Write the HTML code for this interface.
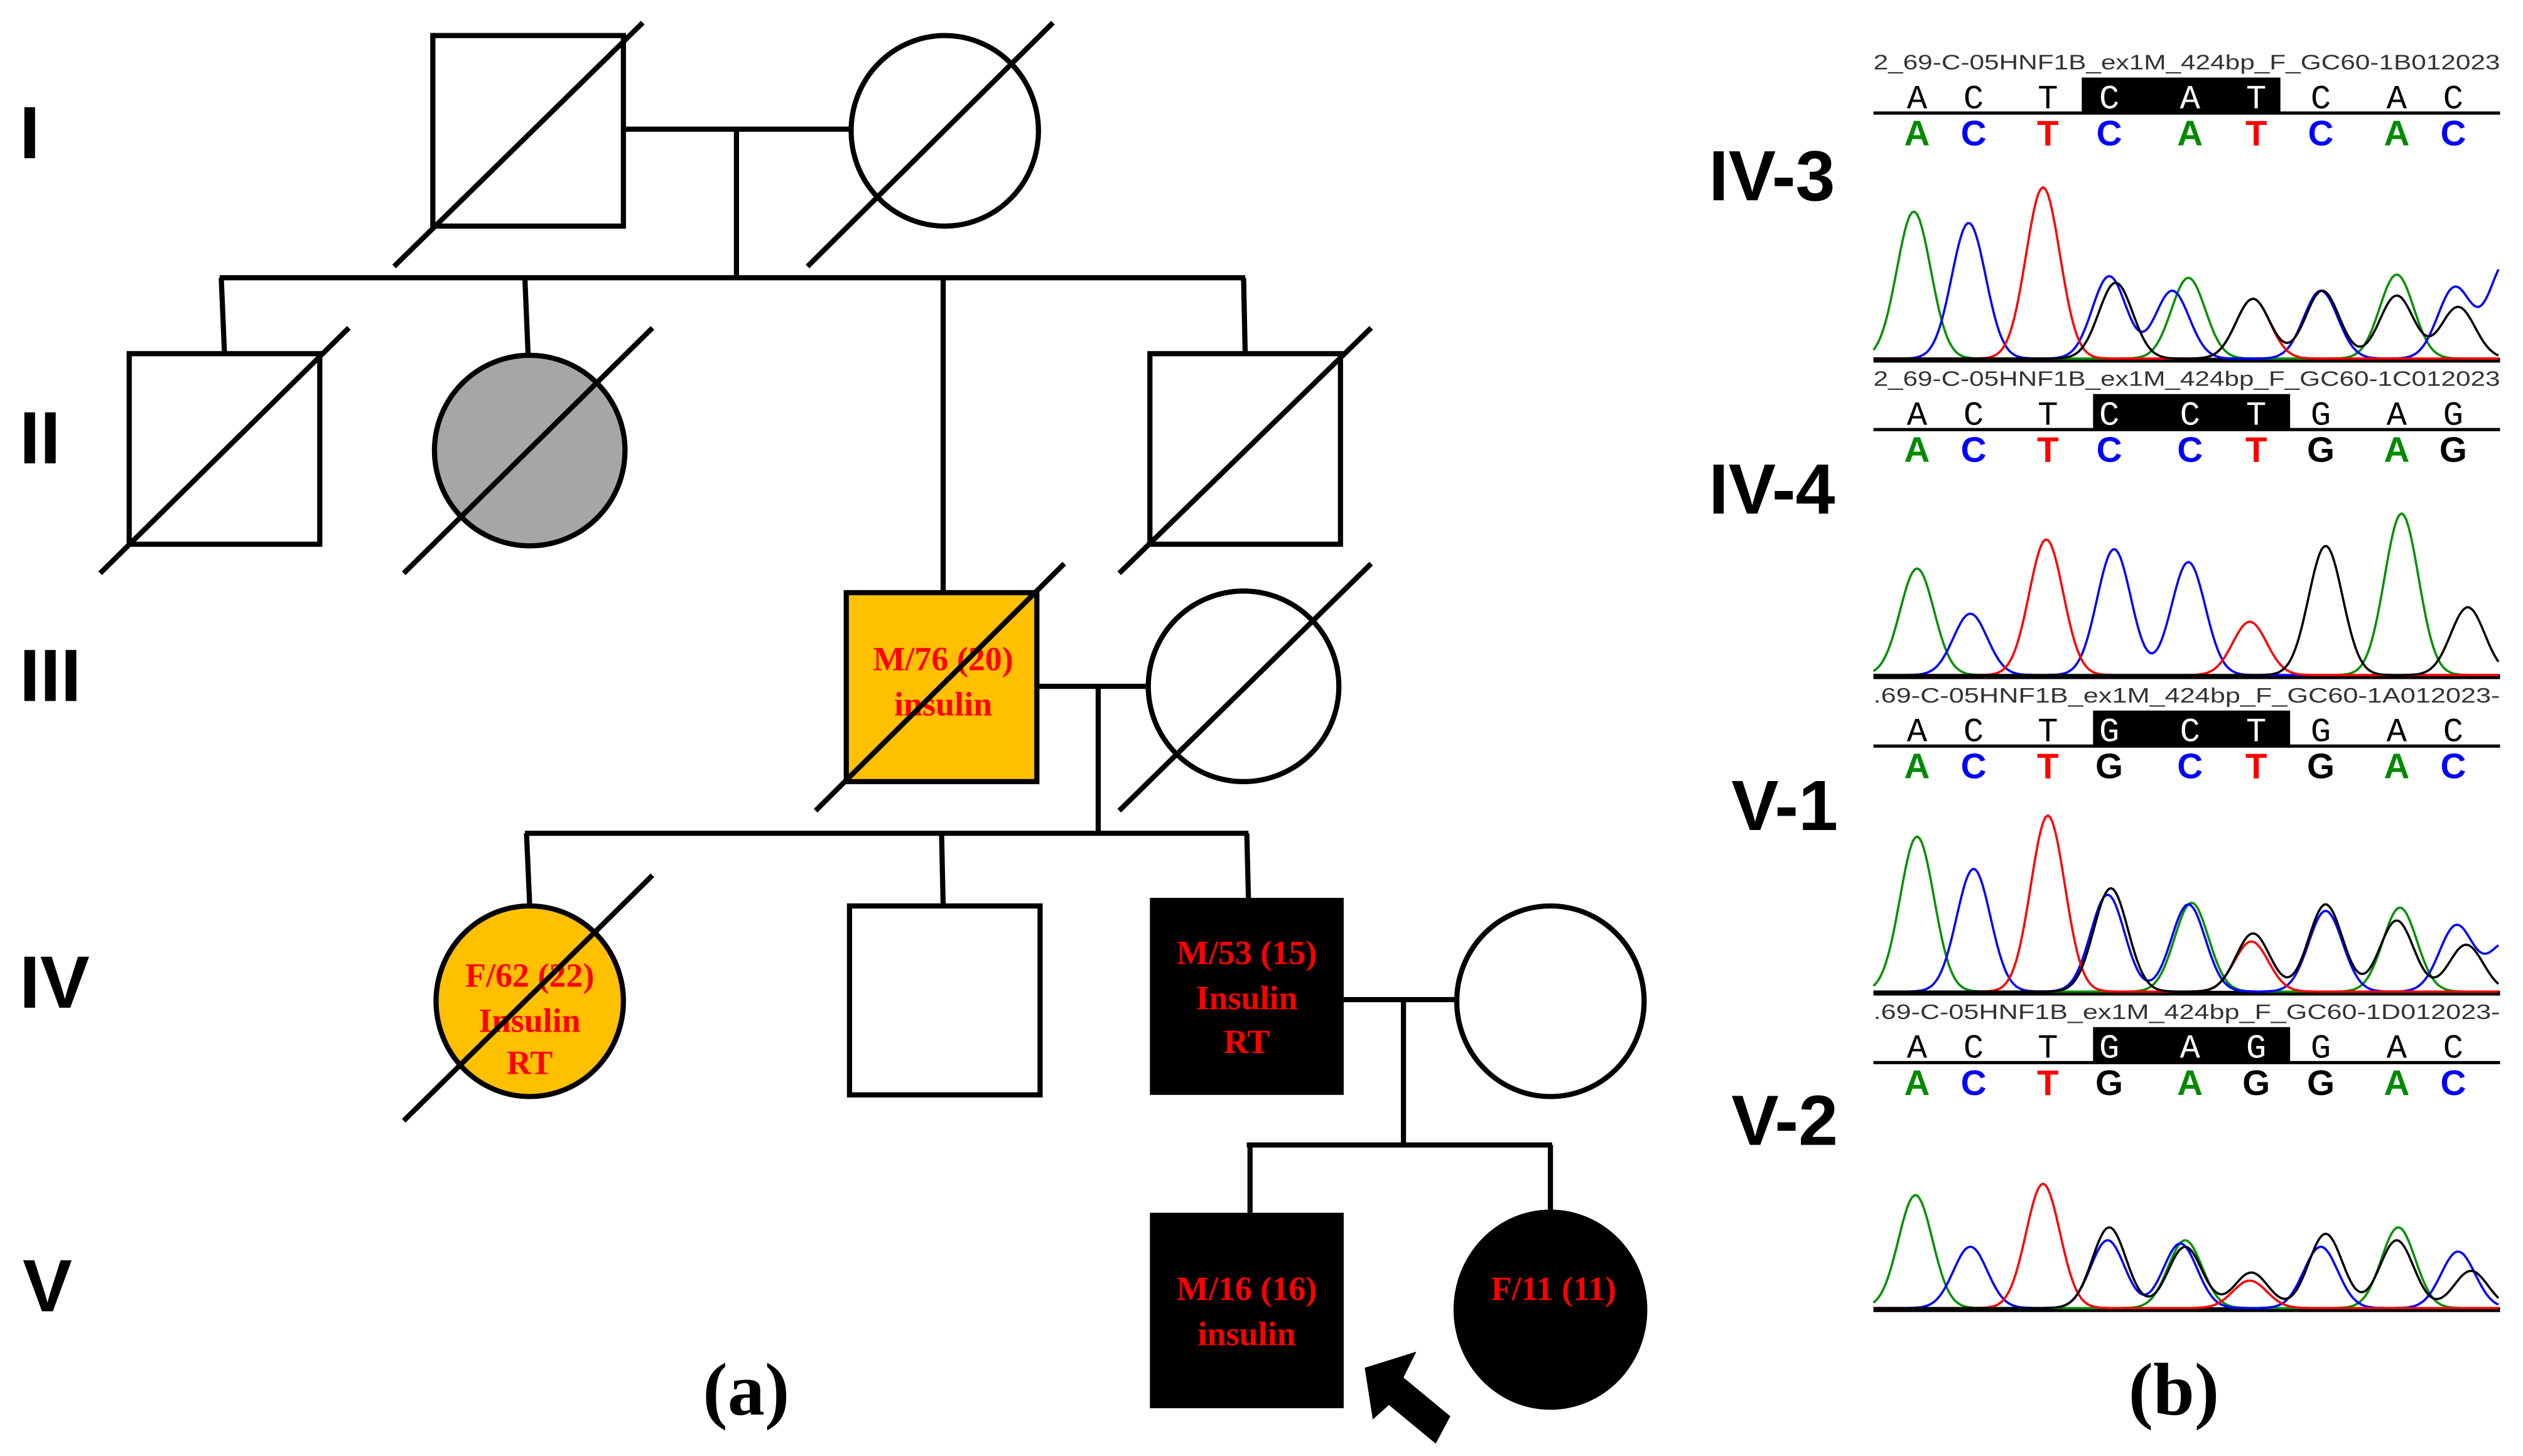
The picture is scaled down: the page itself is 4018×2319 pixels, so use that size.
<!DOCTYPE html>
<html><head><meta charset="utf-8"><style>
html,body{margin:0;padding:0;background:#fff;width:4018px;height:2319px;overflow:hidden}
svg{display:block}
.ped{font-family:"Liberation Serif",serif;font-weight:bold;fill:#f00;font-size:21px;text-anchor:middle}
.gen{font-family:"Liberation Sans",sans-serif;font-weight:bold;font-size:46px;fill:#000}
.lab{font-family:"Liberation Sans",sans-serif;font-weight:bold;font-size:44px;fill:#000}
.cap{font-family:"Liberation Serif",serif;font-weight:bold;font-size:46px;fill:#000;text-anchor:middle}
.hdr{font-family:"Liberation Sans",sans-serif;font-size:13px;fill:#333}
.sb{font-family:"Liberation Mono",monospace;font-size:21px;text-anchor:middle}
.cb{font-family:"Liberation Sans",sans-serif;font-weight:bold;font-size:22px;text-anchor:middle}
</style></head><body>
<svg id="s" width="4018" height="2319" viewBox="0 0 1562.2 901.6" xmlns="http://www.w3.org/2000/svg">
<g stroke="#000" stroke-width="3.2" fill="none">
<rect x="268" y="22" width="118" height="118" fill="#fff"/>
<line x1="244" y1="165" x2="398" y2="14"/>
<ellipse cx="585" cy="81" rx="58" ry="59" fill="#fff"/>
<line x1="500" y1="165" x2="652" y2="14"/>
<line x1="386" y1="80" x2="527" y2="80"/>
<line x1="456" y1="80" x2="456" y2="172"/>
<line x1="136" y1="172" x2="771" y2="172"/>
<line x1="137" y1="172" x2="139" y2="219"/>
<rect x="80" y="219" width="118" height="118" fill="#fff"/>
<line x1="62" y1="355" x2="216" y2="203"/>
<line x1="325" y1="172" x2="327" y2="220"/>
<ellipse cx="328" cy="279" rx="59" ry="59" fill="#a6a6a6"/>
<line x1="250" y1="355" x2="404" y2="203"/>
<line x1="584" y1="172" x2="584" y2="367"/>
<line x1="770" y1="172" x2="771" y2="219"/>
<rect x="712" y="219" width="118" height="118" fill="#fff"/>
<line x1="693" y1="355" x2="849" y2="203"/>
<rect x="524" y="367" width="118" height="117" fill="#ffc000"/>
<ellipse cx="770" cy="425" rx="59" ry="59" fill="#fff"/>
<line x1="642" y1="425" x2="711" y2="425"/>
<line x1="680" y1="425" x2="680" y2="516"/>
<line x1="325" y1="516" x2="773" y2="516"/>
<line x1="326" y1="516" x2="328" y2="561"/>
<ellipse cx="328" cy="620" rx="58" ry="59" fill="#ffc000"/>
<line x1="583" y1="516" x2="584" y2="561"/>
<rect x="526" y="561" width="118" height="117" fill="#fff"/>
<line x1="772" y1="516" x2="773" y2="556"/>
<rect x="712" y="556" width="120" height="122" fill="#000" stroke="none"/>
<ellipse cx="960" cy="620" rx="58" ry="59" fill="#fff"/>
<line x1="832" y1="619" x2="902" y2="619"/>
<line x1="869" y1="619" x2="869" y2="709"/>
<line x1="772" y1="709" x2="961" y2="709"/>
<line x1="774" y1="709" x2="774" y2="751"/>
<line x1="960" y1="709" x2="960" y2="752"/>
<rect x="712" y="751" width="120" height="121" fill="#000" stroke="none"/>
<ellipse cx="960" cy="811" rx="60" ry="62" fill="#000" stroke="none"/>
</g>
<text class="ped" x="584" y="415">M/76 (20)</text>
<text class="ped" x="584" y="443">insulin</text>
<text class="ped" x="328" y="611">F/62 (22)</text>
<text class="ped" x="328" y="639">Insulin</text>
<text class="ped" x="328" y="665">RT</text>
<text class="ped" x="772" y="597">M/53 (15)</text>
<text class="ped" x="772" y="625">Insulin</text>
<text class="ped" x="772" y="652">RT</text>
<text class="ped" x="772" y="805">M/16 (16)</text>
<text class="ped" x="772" y="833">insulin</text>
<text class="ped" x="962" y="805">F/11 (11)</text>
<g stroke="#000" stroke-width="3.2">
<line x1="505" y1="502" x2="659" y2="349"/>
<line x1="693" y1="502" x2="849" y2="349"/>
<line x1="250" y1="694" x2="404" y2="542"/>
</g>
<polygon points="845,847 877,837 869,853 898,877 889,894 860,870 850,879" fill="#000"/>
<text class="gen" x="12" y="98">I</text>
<text class="gen" x="12" y="287">II</text>
<text class="gen" x="12" y="434">III</text>
<text class="gen" x="12" y="624">IV</text>
<text class="gen" x="14" y="812">V</text>
<text class="cap" x="462" y="876">(a)</text>
<text class="cap" x="1346" y="876">(b)</text>
<text class="lab" x="1058" y="124">IV-3</text>
<text class="lab" x="1058" y="318">IV-4</text>
<text class="lab" x="1072" y="514">V-1</text>
<text class="lab" x="1072" y="709">V-2</text>
<g id="chrom"></g>
</svg>
<script>
var NS="http://www.w3.org/2000/svg",g=document.getElementById("chrom");
function el(t,a,txt){var e=document.createElementNS(NS,t);for(var k in a)e.setAttribute(k,a[k]);if(txt)e.textContent=txt;g.appendChild(e);return e;}
var xs=[1187,1222,1268,1306,1356,1397,1437,1484,1519];
var col={A:"#008a00",C:"#0000ff",T:"#ff0000",G:"#000"};
var panels=[
{top:30,hdr:"2_69-C-05HNF1B_ex1M_424bp_F_GC60-1B012023",s:"ACTCATCAC",h:[1289,1412],base:222,
 pk:{g:[[1185,91],[1355,50],[1484,52]],b:[[1219,84],[1306,51],[1345,42],[1437,42],[1520,44],[1552,60]],r:[[1265,106],[1395,37]],k:[[1310,47],[1395,37],[1438,42],[1484,39],[1522,32]]}},
{top:226,hdr:"2_69-C-05HNF1B_ex1M_424bp_F_GC60-1C012023",s:"ACTCCTGAG",h:[1296,1418],base:418,
 pk:{g:[[1187,66],[1487,100]],b:[[1220,38],[1309,78],[1355,70]],r:[[1267,84],[1393,33]],k:[[1440,80],[1528,42]]}},
{top:422,hdr:".69-C-05HNF1B_ex1M_424bp_F_GC60-1A012023-",s:"ACTGCTGAC",h:[1296,1418],base:614,
 pk:{g:[[1187,96],[1357,55],[1486,52]],b:[[1222,76],[1305,60],[1355,54],[1440,50],[1521,41],[1552,30]],r:[[1268,109],[1394,31]],k:[[1307,64],[1395,36],[1440,54],[1484,44],[1527,29]]}},
{top:618,hdr:".69-C-05HNF1B_ex1M_424bp_F_GC60-1D012023-",s:"ACTGAGGAC",h:[1296,1418],base:810,
 pk:{g:[[1186,70],[1353,42],[1485,50]],b:[[1220,38],[1305,42],[1350,40],[1437,38],[1522,35]],r:[[1265,77],[1393,17]],k:[[1306,50],[1353,38],[1394,22],[1440,46],[1484,42],[1530,23]]}}
];
var cc={g:"#009000",b:"#0000ff",r:"#ff0000",k:"#000"};
panels.forEach(function(p){
 var t=p.top;
 el("text",{"class":"hdr",x:1160,y:t+13,textLength:388,lengthAdjust:"spacingAndGlyphs"},p.hdr);
 el("rect",{x:p.h[0],y:t+18,width:p.h[1]-p.h[0],height:22,fill:"#000"});
 el("line",{x1:1160,y1:t+40,x2:1548,y2:t+40,stroke:"#000","stroke-width":2});
 for(var i=0;i<9;i++){
  var inH=xs[i]>p.h[0]&&xs[i]<p.h[1];
  el("text",{"class":"sb",x:xs[i],y:t+37,fill:inH?"#fff":"#000"},p.s[i]);
  el("text",{"class":"cb",x:xs[i],y:t+60,fill:col[p.s[i]]},p.s[i]);
 }
 el("line",{x1:1160,y1:p.base+1,x2:1548,y2:p.base+1,stroke:"#000","stroke-width":3});
 ["g","b","r","k"].forEach(function(c){
  var pts=[];
  for(var x=1160;x<=1548;x+=1.5){
   var y=0;p.pk[c].forEach(function(q){var d=(x-q[0])/10.5;y+=q[1]*Math.exp(-d*d/2);});
   pts.push(x.toFixed(1)+","+(p.base-y).toFixed(1));
  }
  el("polyline",{points:pts.join(" "),fill:"none",stroke:cc[c],"stroke-width":1.4});
 });
});
</script>
</body></html>
